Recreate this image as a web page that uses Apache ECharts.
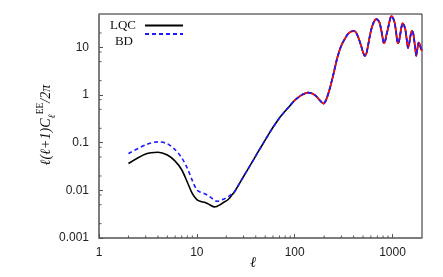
<!DOCTYPE html>
<html>
<head>
<meta charset="utf-8">
<script src="https://cdn.jsdelivr.net/npm/echarts@6/dist/echarts.min.js"></script>
<style>html,body{margin:0;padding:0;background:#fff}#c{width:443px;height:277px}</style>
</head>
<body>
<div id="c"></div>
<script>
// multipoles for low-l region
const ellLow = [2,3,4,5,6,7,8,9,10,11,12,13,14,15,16,17,18,19,20,21,22,23];
const lqcLow = [0.0365,0.058,0.063,0.055,0.041,0.027,0.0148,0.0085,0.0064,0.0058,0.0056,0.0052,0.0048,0.0045,0.0046,0.0049,0.0053,0.0057,0.006,0.0065,0.0072,0.0082];
const bdLow  = [0.059,0.09,0.104,0.095,0.071,0.048,0.029,0.016,0.0102,0.009,0.0085,0.0078,0.007,0.0063,0.0059,0.006,0.0063,0.0066,0.007,0.0074,0.0079,0.0085];
// shared high-l spectrum
const ellHigh = [24,27,30,34,38,43,48,54,60,66,72,80,89,98,108,120,136,150,166,182,197,210,227,245,256,270,286,305,324,350,380,405,424,450,478,500,520,540,561,585,607,640,680,710,736,770,800,814,840,865,895,935,970,1000,1050,1090,1130,1160,1200,1240,1270,1310,1350,1400,1440,1480,1530,1580,1610,1640,1700,1750,1790,1850,1900,1950,2000];
const clHigh  = [0.009,0.0135,0.0195,0.03,0.044,0.068,0.099,0.148,0.21,0.28,0.36,0.46,0.59,0.74,0.88,1.02,1.12,1.08,0.94,0.76,0.66,0.8,1.3,2.4,3.5,5.6,8.4,11.8,14.8,19,21.6,22,20.5,15.5,10.7,7.8,6.6,7.4,10.7,17,24,33,39,37,33,22,14,12.2,13.5,18,24,36,45,43,33,20,12.2,13,19,28,32,29,24,14,9.7,12,18,22,21,18,10,6.6,9,12.6,11.5,9.4,8.5];
const refStartEll = 98;
const seriesNames = ['LQC','BD'];
const xTickLabels = [1,10,100,1000];
const yTickLabels = [0.001,0.01,0.1,1,10];
const xMinorTicks = [2,3,4,5,6,7,8,9,20,30,40,50,60,70,80,90,200,300,400,500,600,700,800,900];
const yMinorTicks = [0.002,0.005,0.008,0.02,0.05,0.08,0.2,0.5,0.8,2,5,8,20];

const xMin = 1, xMax = 2000, yMin = 0.001, yMax = 50;

const lqcData = ellLow.map((l,i)=>[l,lqcLow[i]]).concat(ellHigh.map((l,i)=>[l,clHigh[i]]));
const bdData  = ellLow.map((l,i)=>[l,bdLow[i]]).concat(ellHigh.map((l,i)=>[l,clHigh[i]]));
const refData = ellHigh.map((l,i)=>[l,clHigh[i]]).filter(d=>d[0]>=refStartEll);

const fmt = v => String(+(+v).toPrecision(3));
const tickColor = '#555';
const legendCommon = {right:259,padding:0,itemWidth:38,itemHeight:14,align:'right',
  itemStyle:{opacity:0,borderWidth:0},
  textStyle:{fontFamily:'Liberation Serif',fontSize:13,color:'#111',lineHeight:15}};

const chart = echarts.init(document.getElementById('c'), null, {renderer:'canvas'});
chart.setOption({
  animation:false,
  backgroundColor:'#fff',
  grid:{left:99,right:21,top:14,bottom:39,containLabel:false,outerBoundsMode:'none',
    show:true,borderColor:'#222',borderWidth:1,backgroundColor:'transparent'},
  legend:[
    Object.assign({}, legendCommon, {data:[seriesNames[0]],top:17,
      textStyle:Object.assign({}, legendCommon.textStyle, {padding:[2,4,0,0]})}),
    Object.assign({}, legendCommon, {data:[seriesNames[1]],top:19,
      formatter:n=>'\n'+n,
      textStyle:Object.assign({}, legendCommon.textStyle, {padding:[0,7,0,0]})})
  ],
  xAxis:{type:'log',logBase:10,min:xMin,max:xMax,
    name:'ℓ',nameLocation:'middle',nameGap:18,nameMoveOverlap:false,
    nameTextStyle:{fontFamily:'Liberation Serif',fontStyle:'italic',fontSize:15,color:'#111',padding:[0,15,0,0]},
    axisLine:{show:true,lineStyle:{color:'#777',width:1.5}},
    axisTick:{show:true,inside:true,length:4,lineStyle:{color:tickColor}},
    axisLabel:{fontFamily:'Liberation Sans',fontSize:12,color:'#222',margin:9,showMaxLabel:false,
      formatter:v=> xTickLabels.some(t=>Math.abs(t-v)/t<1e-6)?fmt(v):''},
    splitLine:{show:false}},
  yAxis:{type:'log',logBase:10,min:yMin,max:yMax,
    name:'{a|ℓ(ℓ+1)}{c|C}{sub|ℓ}{sup|EE}{a|/2}{c|π}',nameLocation:'middle',nameGap:42,nameMoveOverlap:false,
    nameTextStyle:{padding:[0,0,0,2],
      rich:{
        a:{fontFamily:'Liberation Serif',fontStyle:'italic',fontSize:14,color:'#111',lineHeight:22},
        c:{fontFamily:'Liberation Serif',fontStyle:'italic',fontSize:14,color:'#111',lineHeight:22},
        sub:{fontFamily:'Liberation Serif',fontStyle:'italic',fontSize:10,color:'#111',verticalAlign:'bottom',lineHeight:22},
        sup:{fontFamily:'Liberation Serif',fontSize:9.5,color:'#111',verticalAlign:'top',lineHeight:22}
      }},
    axisLine:{show:true,lineStyle:{color:'#777',width:1.5}},
    axisTick:{show:true,inside:true,length:4,lineStyle:{color:tickColor}},
    axisLabel:{fontFamily:'Liberation Sans',fontSize:12,color:'#222',margin:10,showMaxLabel:false,
      formatter:v=> yTickLabels.some(t=>Math.abs(t-v)/t<1e-6)?fmt(v):''},
    splitLine:{show:false}},
  series:[
    {name:seriesNames[0],type:'line',data:lqcData,symbol:'none',smooth:0.3,z:3,
     lineStyle:{color:'#000',width:1.6,type:'solid'},itemStyle:{color:'#000'}},
    {name:'ref',type:'line',data:refData,symbol:'none',smooth:0.3,z:4,
     lineStyle:{color:'#ff1010',width:1.8,type:'solid'},itemStyle:{color:'#ff1010'}},
    {name:seriesNames[1],type:'line',data:bdData,symbol:'none',smooth:0.3,z:5,
     lineStyle:{color:'#1a1aff',width:1.6,type:[4,3]},itemStyle:{color:'#1a1aff'}},
    {type:'custom',coordinateSystem:'cartesian2d',silent:true,clip:false,z:6,
     data:xMinorTicks.map(v=>[v,yMin]),
     renderItem:(p,api)=>{const c=api.coord([api.value(0),api.value(1)]);
       return {type:'line',shape:{x1:c[0],y1:c[1],x2:c[0],y2:c[1]-2.5},style:{stroke:tickColor,lineWidth:1}};}},
    {type:'custom',coordinateSystem:'cartesian2d',silent:true,clip:false,z:6,
     data:yMinorTicks.map(v=>[xMin,v]),
     renderItem:(p,api)=>{const c=api.coord([api.value(0),api.value(1)]);
       return {type:'line',shape:{x1:c[0],y1:c[1],x2:c[0]+2.5,y2:c[1]},style:{stroke:tickColor,lineWidth:1}};}}
  ]
});
</script>
</body>
</html>
